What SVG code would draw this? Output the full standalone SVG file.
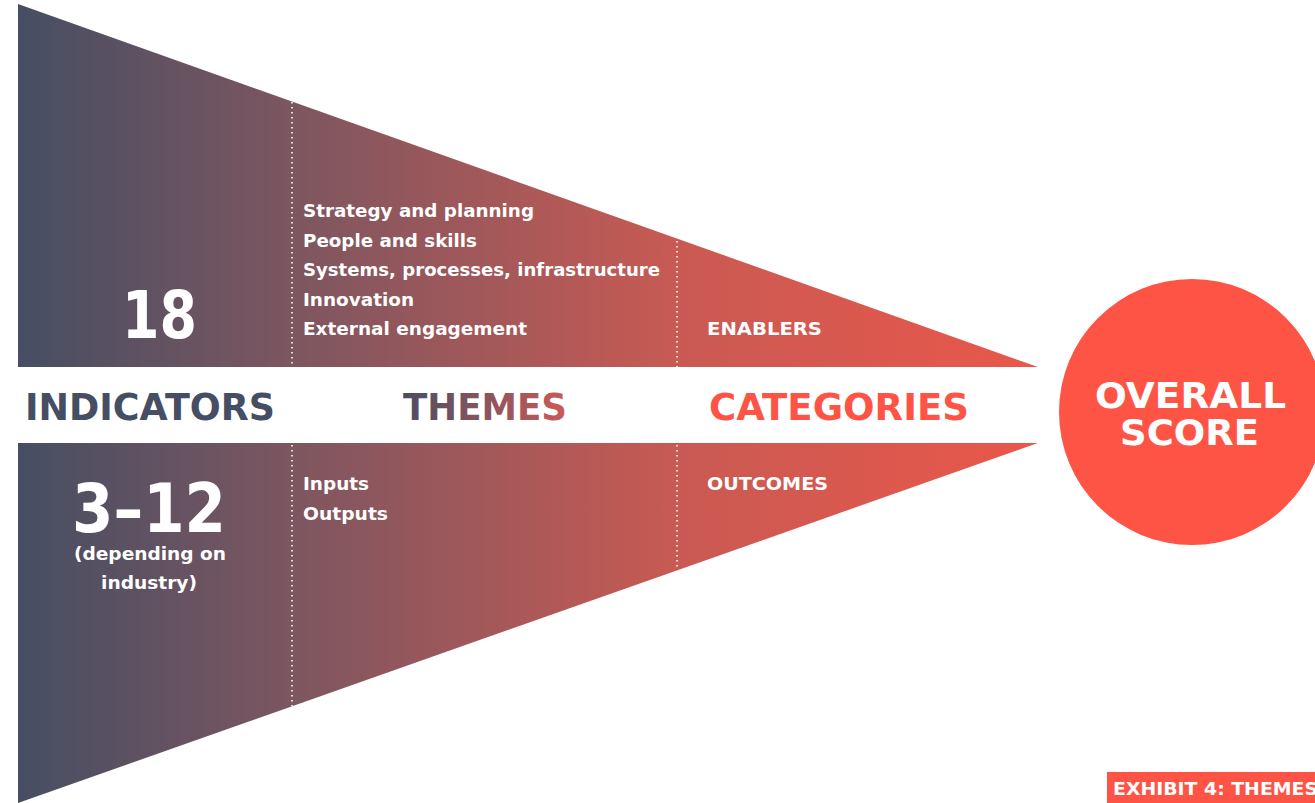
<svg xmlns="http://www.w3.org/2000/svg" width="1315" height="803" viewBox="0 0 1315 803">
<defs>
<linearGradient id="g" gradientUnits="userSpaceOnUse" x1="18" y1="0" x2="1038" y2="0">
<stop offset="0" stop-color="#464e63"/>
<stop offset="0.27" stop-color="#7d5660"/>
<stop offset="0.65" stop-color="#c95a53"/>
<stop offset="1" stop-color="#ea574a"/>
</linearGradient>
<linearGradient id="gt" gradientUnits="userSpaceOnUse" x1="403" y1="0" x2="567" y2="0">
<stop offset="0" stop-color="#4a4e62"/>
<stop offset="1" stop-color="#cb5a58"/>
</linearGradient>
<style>
text{font-family:"DejaVu Sans","Liberation Sans",Arial,sans-serif;font-weight:bold}
.w{fill:#ffffff}
.s{font-size:18px}
.h{font-size:37px}
.dot{stroke:#ffffff;stroke-width:1.6;stroke-dasharray:1.5 3.5;fill:none}
</style>
</defs>
<rect width="1315" height="803" fill="#ffffff"/>
<g id="funnel">
<polygon points="18,4 1038,367 18,367" fill="url(#g)"/>
<polygon points="18,443 1038,443 18,803" fill="url(#g)"/>
</g>
<g id="connectors">
<line class="dot" x1="292" y1="102" x2="292" y2="367"/>
<line class="dot" x1="292" y1="445" x2="292" y2="706"/>
<line class="dot" x1="677" y1="241" x2="677" y2="367"/>
<line class="dot" x1="677" y1="445" x2="677" y2="570"/>
</g>
<g id="indicators">
<text class="w" x="122" y="338" font-size="66" textLength="75" lengthAdjust="spacingAndGlyphs">18</text>
<text x="25" y="420" class="h" fill="#464e63" textLength="250" lengthAdjust="spacingAndGlyphs">INDICATORS</text>
<text class="w" x="72" y="532" font-size="68" textLength="154" lengthAdjust="spacingAndGlyphs">3–12</text>
<text class="w s" x="74" y="560" textLength="152" lengthAdjust="spacingAndGlyphs">(depending on</text>
<text class="w s" x="101" y="589" textLength="96" lengthAdjust="spacingAndGlyphs">industry)</text>
</g>
<g id="themes">
<text class="w s" x="303" y="217" textLength="231" lengthAdjust="spacingAndGlyphs">Strategy and planning</text>
<text class="w s" x="303" y="247" textLength="174" lengthAdjust="spacingAndGlyphs">People and skills</text>
<text class="w s" x="303" y="276" textLength="357" lengthAdjust="spacingAndGlyphs">Systems, processes, infrastructure</text>
<text class="w s" x="303" y="306" textLength="111" lengthAdjust="spacingAndGlyphs">Innovation</text>
<text class="w s" x="303" y="335" textLength="224" lengthAdjust="spacingAndGlyphs">External engagement</text>
<text x="403" y="420" class="h" fill="url(#gt)" textLength="164" lengthAdjust="spacingAndGlyphs">THEMES</text>
<text class="w s" x="303" y="490" textLength="66" lengthAdjust="spacingAndGlyphs">Inputs</text>
<text class="w s" x="303" y="520" textLength="85" lengthAdjust="spacingAndGlyphs">Outputs</text>
</g>
<g id="categories">
<text class="w s" x="707" y="335" textLength="115" lengthAdjust="spacingAndGlyphs">ENABLERS</text>
<text x="709" y="420" class="h" fill="#fe5446" textLength="260" lengthAdjust="spacingAndGlyphs">CATEGORIES</text>
<text class="w s" x="707" y="490" textLength="121" lengthAdjust="spacingAndGlyphs">OUTCOMES</text>
</g>
<g id="overall">
<circle cx="1192" cy="412" r="133" fill="#fe5446"/>
<text class="w" x="1095" y="408" font-size="35" textLength="191" lengthAdjust="spacingAndGlyphs">OVERALL</text>
<text class="w" x="1120" y="445" font-size="35" textLength="139" lengthAdjust="spacingAndGlyphs">SCORE</text>
</g>
<g id="exhibit">
<rect x="1107" y="772" width="208" height="31" fill="#fe5446"/>
<text class="w s" x="1113" y="795" textLength="205" lengthAdjust="spacingAndGlyphs">EXHIBIT 4: THEMES</text>
</g>
</svg>
